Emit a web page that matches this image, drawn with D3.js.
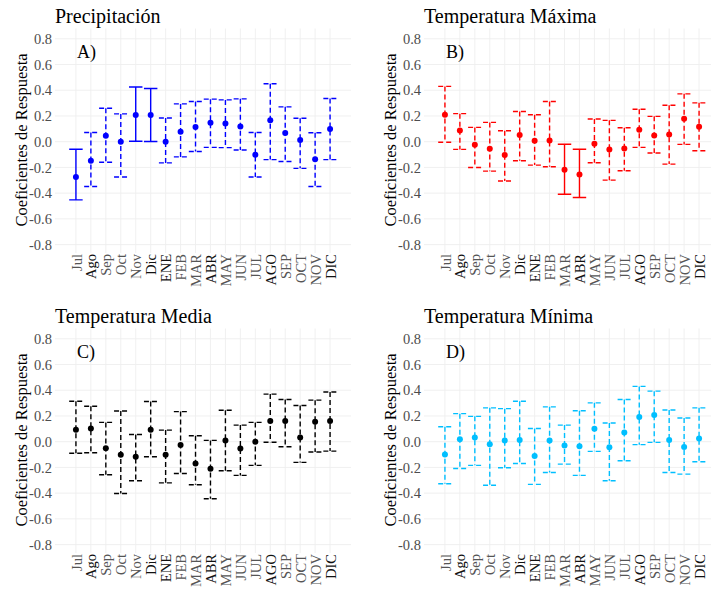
<!DOCTYPE html>
<html>
<head>
<meta charset="utf-8">
<script src="https://cdn.jsdelivr.net/npm/d3@7"></script>
<style>
  body { margin: 0; background: #fff; }
</style>
</head>
<body>
<script>
// month labels on x (two years: lower-case then upper-case)
const months = ["Jul","Ago","Sep","Oct","Nov","Dic","ENE","FEB","MAR","ABR","MAY","JUN","JUL","AGO","SEP","OCT","NOV","DIC"];
const yTicks = [-0.8, -0.6, -0.4, -0.2, 0.0, 0.2, 0.4, 0.6, 0.8];

// A) Precipitación
const precEst = [-0.274,-0.149,0.046,0.000,0.208,0.208,0.000,0.077,0.114,0.148,0.142,0.119,-0.102,0.166,0.067,0.014,-0.136,0.098];
const precLo  = [-0.452,-0.348,-0.160,-0.274,0.003,0.002,-0.165,-0.118,-0.076,-0.044,-0.046,-0.065,-0.274,-0.139,-0.154,-0.207,-0.348,-0.139];
const precHi  = [-0.059,0.072,0.260,0.216,0.425,0.414,0.184,0.294,0.312,0.331,0.325,0.333,0.072,0.451,0.271,0.182,0.069,0.336];

// B) Temperatura Máxima
const tmaxEst = [0.210,0.088,-0.023,-0.055,-0.104,0.053,0.007,0.009,-0.218,-0.255,-0.016,-0.060,-0.052,0.093,0.048,0.056,0.179,0.116];
const tmaxLo  = [-0.004,-0.060,-0.200,-0.229,-0.306,-0.148,-0.182,-0.195,-0.408,-0.434,-0.164,-0.299,-0.226,-0.044,-0.088,-0.174,-0.021,-0.070];
const tmaxHi  = [0.430,0.218,0.111,0.150,0.085,0.235,0.210,0.312,-0.020,-0.059,0.176,0.166,0.108,0.252,0.197,0.283,0.372,0.302];

// C) Temperatura Media
const tmedEst = [0.093,0.103,-0.050,-0.101,-0.117,0.093,-0.101,-0.025,-0.169,-0.210,0.009,-0.052,-0.001,0.161,0.161,0.033,0.155,0.161];
const tmedLo  = [-0.090,-0.086,-0.257,-0.403,-0.304,-0.117,-0.320,-0.247,-0.335,-0.444,-0.226,-0.262,-0.184,-0.004,-0.039,-0.161,-0.080,-0.073];
const tmedHi  = [0.315,0.276,0.150,0.239,0.056,0.312,0.090,0.234,0.046,0.010,0.245,0.129,0.150,0.370,0.328,0.281,0.323,0.386];

// D) Temperatura Mínima
const tminEst = [-0.099,0.020,0.033,-0.020,0.010,0.014,-0.112,0.010,-0.030,-0.036,0.100,-0.044,0.072,0.192,0.208,0.014,-0.041,0.025];
const tminLo  = [-0.327,-0.208,-0.184,-0.338,-0.203,-0.169,-0.332,-0.239,-0.174,-0.262,-0.075,-0.304,-0.148,-0.023,-0.005,-0.239,-0.252,-0.156];
const tminHi  = [0.116,0.218,0.197,0.263,0.257,0.315,0.103,0.271,0.129,0.241,0.302,0.145,0.328,0.430,0.393,0.247,0.184,0.263];

const panels = [
  { title: "Precipitación",      tag: "A)", color: "#0000ff", est: precEst, lo: precLo, hi: precHi, dx: 0,   dy: 0 },
  { title: "Temperatura Máxima", tag: "B)", color: "#ff0000", est: tmaxEst, lo: tmaxLo, hi: tmaxHi, dx: 369, dy: 0 },
  { title: "Temperatura Media",  tag: "C)", color: "#000000", est: tmedEst, lo: tmedLo, hi: tmedHi, dx: 0,   dy: 300 },
  { title: "Temperatura Mínima", tag: "D)", color: "#00bfff", est: tminEst, lo: tminLo, hi: tminHi, dx: 369, dy: 300 }
];

const FONT = "Liberation Serif";

// panel geometry (local coords, shared by all four)
const P = { left: 55, right: 351, top: 28.5, bottom: 253 };
const x = d3.scalePoint().domain(months).range([P.left, P.right]).padding(1.4);
const y = d3.scaleLinear().domain([-0.8, 0.8]).range([244.6, 38.8]);
const capW = x.step() * 0.9;

// some tick labels render darker in the original
const darkIdx = [1, 5, 6, 9, 13, 17];

const svg = d3.select("body").append("svg")
  .attr("width", 711).attr("height", 590)
  .attr("font-family", FONT);
svg.append("rect").attr("width", 711).attr("height", 590).attr("fill", "#fff");

panels.forEach(p => {
  const g = svg.append("g").attr("transform", `translate(${p.dx},${p.dy})`);

  // grid
  g.append("g").selectAll("line").data(yTicks).join("line")
    .attr("x1", P.left).attr("x2", P.right)
    .attr("y1", d => y(d)).attr("y2", d => y(d))
    .attr("stroke", "#eeeeee").attr("stroke-width", 0.9);
  g.append("g").selectAll("line").data(months).join("line")
    .attr("x1", d => x(d)).attr("x2", d => x(d))
    .attr("y1", P.top).attr("y2", P.bottom)
    .attr("stroke", "#eeeeee").attr("stroke-width", 0.9);

  // y axis
  const gy = g.append("g").attr("transform", `translate(${P.left},0)`)
    .call(d3.axisLeft(y).tickValues(yTicks).tickFormat(d => d.toFixed(1)).tickSize(0).tickPadding(3));
  gy.select(".domain").remove();
  gy.attr("font-family", FONT);
  gy.selectAll("text").attr("font-size", 14.5).attr("fill", "#4d4d4d");

  // x axis, vertical labels
  const gx = g.append("g").attr("transform", `translate(0,${P.bottom})`)
    .call(d3.axisBottom(x).tickSize(0));
  gx.select(".domain").remove();
  gx.attr("font-family", FONT);
  gx.selectAll("text")
    .attr("transform", "rotate(-90)")
    .attr("x", -1).attr("y", 0).attr("dy", "0.35em")
    .style("text-anchor", "end")
    .attr("font-size", 14.5)
    .attr("fill", (d, i) => darkIdx.includes(i) ? "#111" : "#555");

  // y title
  g.append("text")
    .attr("transform", "translate(27,140) rotate(-90)")
    .attr("text-anchor", "middle")
    .attr("font-family", FONT)
    .attr("font-size", 16.5)
    .attr("fill", "#000")
    .text("Coeficientes de Respuesta");

  // panel title + tag
  g.append("text").attr("x", 55).attr("y", 23)
    .attr("font-family", FONT).attr("font-size", 20).attr("fill", "#000").text(p.title);
  g.append("text").attr("x", 77).attr("y", 58)
    .attr("font-family", FONT).attr("font-size", 18).attr("fill", "#000").text(p.tag);

  // error bars: solid where interval excludes zero
  const rows = months.map((m, i) => ({ m, est: p.est[i], lo: p.lo[i], hi: p.hi[i] }));
  g.append("g").selectAll("path").data(rows).join("path")
    .attr("d", d => {
      const cx = x(d.m), h = capW / 2;
      return `M${cx - h},${y(d.hi)}H${cx + h}M${cx},${y(d.hi)}V${y(d.lo)}M${cx - h},${y(d.lo)}H${cx + h}`;
    })
    .attr("fill", "none")
    .attr("stroke", p.color)
    .attr("stroke-width", 1.4)
    .attr("stroke-dasharray", d => (d.lo > 0 || d.hi < 0) ? null : "5,3");

  g.append("g").selectAll("circle").data(rows).join("circle")
    .attr("cx", d => x(d.m)).attr("cy", d => y(d.est))
    .attr("r", 3)
    .attr("fill", p.color);
});
</script>
</body>
</html>
